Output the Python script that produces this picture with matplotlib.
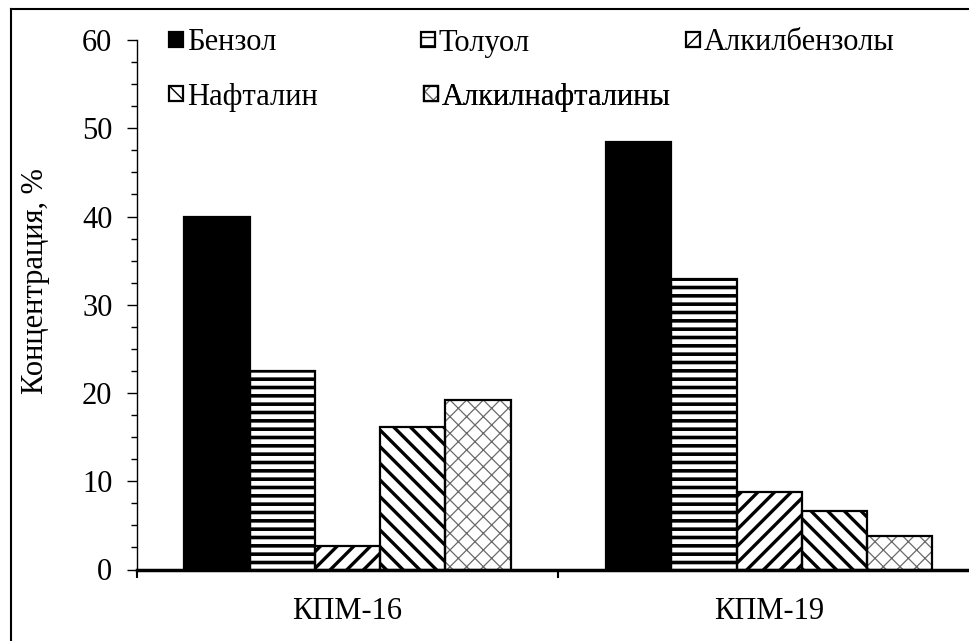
import matplotlib
matplotlib.use('Agg')
import matplotlib.pyplot as plt
import numpy as np
from matplotlib.lines import Line2D
from matplotlib.ticker import MultipleLocator, FixedLocator
from matplotlib.legend_handler import HandlerTuple

plt.rcParams['font.family'] = ['Liberation Serif', 'DejaVu Serif']

samples = ['КПМ-16', 'КПМ-19']
components = ['Бензол', 'Толуол', 'Алкилбензолы', 'Нафталин', 'Алкилнафталины']
benzene = [39.9, 48.4]
toluene = [22.5, 32.9]
alkylbenzenes = [2.7, 8.8]
naphthalene = [16.2, 6.6]
alkylnaphthalenes = [19.2, 3.8]
series = [benzene, toluene, alkylbenzenes, naphthalene, alkylnaphthalenes]

# заливка, штриховка, цвет штриховки, толщина штриховки
styles = [
    ('black', None, 'black', 1.0),
    ('white', '--', 'black', 2.6),
    ('white', '//', 'black', 2.4),
    ('white', '\\\\', 'black', 2.4),
    ('white', 'xx', '#6a6a6a', 0.9),
]

FS = 22
W, H = 969, 641
fig = plt.figure(figsize=(W / 100, H / 100), dpi=100)
ax = fig.add_axes([136.7 / W, 71.5 / H, 843.3 / W, 529.5 / H])

x = np.arange(len(samples)) + 0.5
bw = 0.1547
handles = []
for i, (vals, (fc, hatch, hc, hlw)) in enumerate(zip(series, styles)):
    pos = x + (i - 2) * bw
    fill = ax.bar(pos, vals, bw, color=fc, edgecolor=hc, linewidth=0, hatch=hatch, zorder=2)
    if hatch is not None:
        for p in fill:
            if hasattr(p, 'set_hatch_linewidth'):
                p.set_hatch_linewidth(hlw)
    edge = ax.bar(pos, vals, bw, fill=False, edgecolor='black', linewidth=1.6, zorder=3)
    handles.append((fill, edge))

ax.set_xlim(0, 2)
ax.set_ylim(0, 60)
ax.yaxis.set_major_locator(MultipleLocator(10))
ax.yaxis.set_minor_locator(MultipleLocator(2.5))
ax.tick_params(axis='y', which='major', direction='out', length=7.5, width=1, labelsize=FS, pad=10)
ax.tick_params(axis='y', which='minor', direction='out', length=4.5, width=1)

ax.xaxis.set_major_locator(FixedLocator([0, 1, 2]))
ax.xaxis.set_minor_locator(FixedLocator(x))
ax.xaxis.set_major_formatter(plt.NullFormatter())
ax.set_xticklabels(samples, minor=True)
ax.tick_params(axis='x', which='major', direction='out', length=6, width=1.5)
ax.tick_params(axis='x', which='minor', length=0, labelsize=FS, pad=20)

for s in ('top', 'right'):
    ax.spines[s].set_visible(False)
ax.spines['left'].set_linewidth(1)
ax.spines['bottom'].set_linewidth(2.5)
ax.spines['bottom'].set_zorder(4)

ax.set_ylabel('Концентрация, %', fontsize=FS)
ax.yaxis.set_label_coords(-0.103, 0.545)

# подписи легенды расставлены по сетке 3x2
legend_pos = [(169, 43), (421, 43), (686, 43), (169, 97), (424, 97)]
for h, name, (px, py) in zip(handles, components, legend_pos):
    leg = ax.legend([h], [name], loc='center left',
                    bbox_to_anchor=(px / W, 1 - py / H), bbox_transform=fig.transFigure,
                    frameon=False, fontsize=FS, handlelength=0.46, handleheight=0.4,
                    handletextpad=0.12, borderpad=0, borderaxespad=0,
                    handler_map={tuple: HandlerTuple(ndivide=1, pad=0)})
    ax.add_artist(leg)

# рамка диаграммы
fig.add_artist(Line2D([11 / W, 11 / W], [0, 1 - 9 / H], transform=fig.transFigure, color='black', lw=1.5))
fig.add_artist(Line2D([11 / W, 1], [1 - 9 / H, 1 - 9 / H], transform=fig.transFigure, color='black', lw=1.5))

fig.savefig('out.png', dpi=100)
